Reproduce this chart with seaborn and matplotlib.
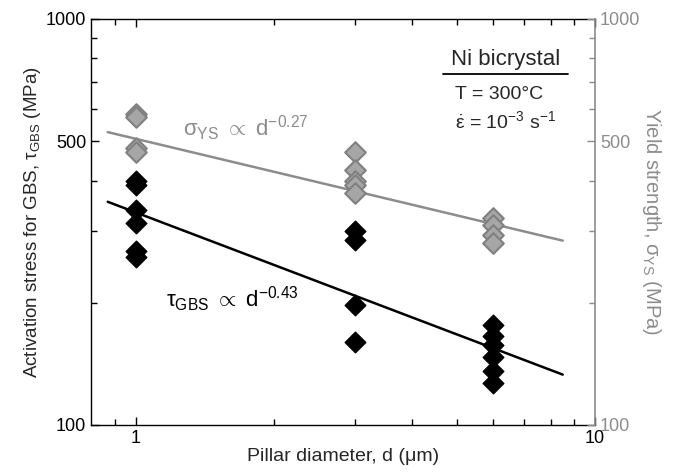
import numpy as np
import pandas as pd
import matplotlib
matplotlib.use('Agg')
import matplotlib.pyplot as plt
import seaborn as sns
from matplotlib.ticker import FixedLocator, NullFormatter, FixedFormatter

# pillar diameter (um) and measured stresses (MPa)
gbs_d = [1, 1, 1, 1, 1, 1, 3, 3, 3, 3, 6, 6, 6, 6, 6, 6]
gbs_tau = [398, 390, 338, 315, 268, 260, 301, 285, 197, 160, 176, 166, 157, 147, 136, 127]
ys_d = [1, 1, 1, 1, 3, 3, 3, 3, 3, 6, 6, 6, 6]
ys_sigma = [585, 575, 480, 470, 470, 425, 400, 390, 372, 324, 310, 293, 280]

# power-law fits
fit_d = [0.87, 8.5]
gbs_coef, gbs_exp = 334, -0.43
ys_coef, ys_exp = 507, -0.27

sns.set_theme(style='ticks')
plt.rcParams['font.family'] = ['Liberation Sans', 'DejaVu Sans']
plt.rcParams['mathtext.fontset'] = 'custom'
plt.rcParams['mathtext.rm'] = 'Liberation Sans'
plt.rcParams['mathtext.it'] = 'Liberation Sans:italic'

gray = '#8c8c8c'

fig = plt.figure(figsize=(6.74, 4.72), dpi=100)
ax = fig.add_axes([0.135, 0.0996, 0.748, 0.8602])
ax2 = ax.twinx()

fit_df = pd.DataFrame({
    'd': fit_d,
    'gbs': [gbs_coef * x ** gbs_exp for x in fit_d],
    'ys': [ys_coef * x ** ys_exp for x in fit_d],
})
sns.lineplot(data=fit_df, x='d', y='ys', ax=ax, color=gray, lw=1.8)
sns.lineplot(data=fit_df, x='d', y='gbs', ax=ax, color='black', lw=1.8)

sns.scatterplot(x=ys_d, y=ys_sigma, ax=ax, marker='D', s=110,
                color='#a6a6a6', edgecolor='#808080', linewidth=1.5, zorder=3)
sns.scatterplot(x=gbs_d, y=gbs_tau, ax=ax, marker='D', s=110,
                color='black', edgecolor='black', linewidth=1, zorder=3)

for a in (ax, ax2):
    a.set_xscale('log')
    a.set_yscale('log')
    a.set_xlim(0.8, 10)
    a.set_ylim(100, 1000)

ax.xaxis.set_major_locator(FixedLocator([1, 10]))
ax.xaxis.set_major_formatter(FixedFormatter(['1', '10']))
ax.xaxis.set_minor_locator(FixedLocator([0.9, 2, 3, 4, 5, 6, 7, 8, 9]))
ax.xaxis.set_minor_formatter(NullFormatter())

for a in (ax, ax2):
    a.yaxis.set_major_locator(FixedLocator([100, 500, 1000]))
    a.yaxis.set_major_formatter(FixedFormatter(['100', '500', '1000']))
    a.yaxis.set_minor_locator(FixedLocator([200, 300, 400, 600, 700, 800, 900]))
    a.yaxis.set_minor_formatter(NullFormatter())

ax.tick_params(which='both', direction='in', top=True, labelsize=13, colors='black')
ax.tick_params(which='major', length=6, width=1)
ax.tick_params(which='minor', length=4, width=1)
ax.tick_params(axis='y', right=False, which='both')
ax2.tick_params(which='both', direction='in', labelsize=13, colors=gray)
ax2.tick_params(which='major', length=6, width=1)
ax2.tick_params(which='minor', length=4, width=1)

for side in ['left', 'bottom', 'top']:
    ax.spines[side].set_color('black')
    ax.spines[side].set_linewidth(1)
ax.spines['right'].set_visible(False)
ax2.spines['right'].set_color(gray)
ax2.spines['right'].set_linewidth(1.2)
for side in ['left', 'bottom', 'top']:
    ax2.spines[side].set_visible(False)

ax.set_xlabel('Pillar diameter, d (μm)', fontsize=14, labelpad=1)
ax.set_ylabel(r'Activation stress for GBS, τ$_{\rm GBS}$ (MPa)', fontsize=13.5, labelpad=2)
ax2.set_ylabel(r'Yield strength, σ$_{\rm YS}$ (MPa)', fontsize=14.5, color=gray,
               rotation=270, labelpad=16)

ax.text(0.183, 0.73, r'σ$_{\rm YS}$ $\propto$ d$^{-0.27}$', transform=ax.transAxes,
        fontsize=16, color=gray, va='center')
ax.text(0.148, 0.31, r'τ$_{\rm GBS}$ $\propto$ d$^{-0.43}$', transform=ax.transAxes,
        fontsize=16, color='black', va='center')

ax.text(0.822, 0.899, 'Ni bicrystal', transform=ax.transAxes, fontsize=16,
        ha='center', va='center')
ax.plot([0.698, 0.946], [0.865, 0.865], transform=ax.transAxes, color='black', lw=1.3)
ax.text(0.722, 0.815, 'T = 300°C', transform=ax.transAxes, fontsize=14, va='center')
ax.text(0.722, 0.748, r'$\dot{\mathrm{ε}}$ = 10$^{-3}$ s$^{-1}$', transform=ax.transAxes,
        fontsize=14, va='center')

fig.savefig('out.png', dpi=100)
